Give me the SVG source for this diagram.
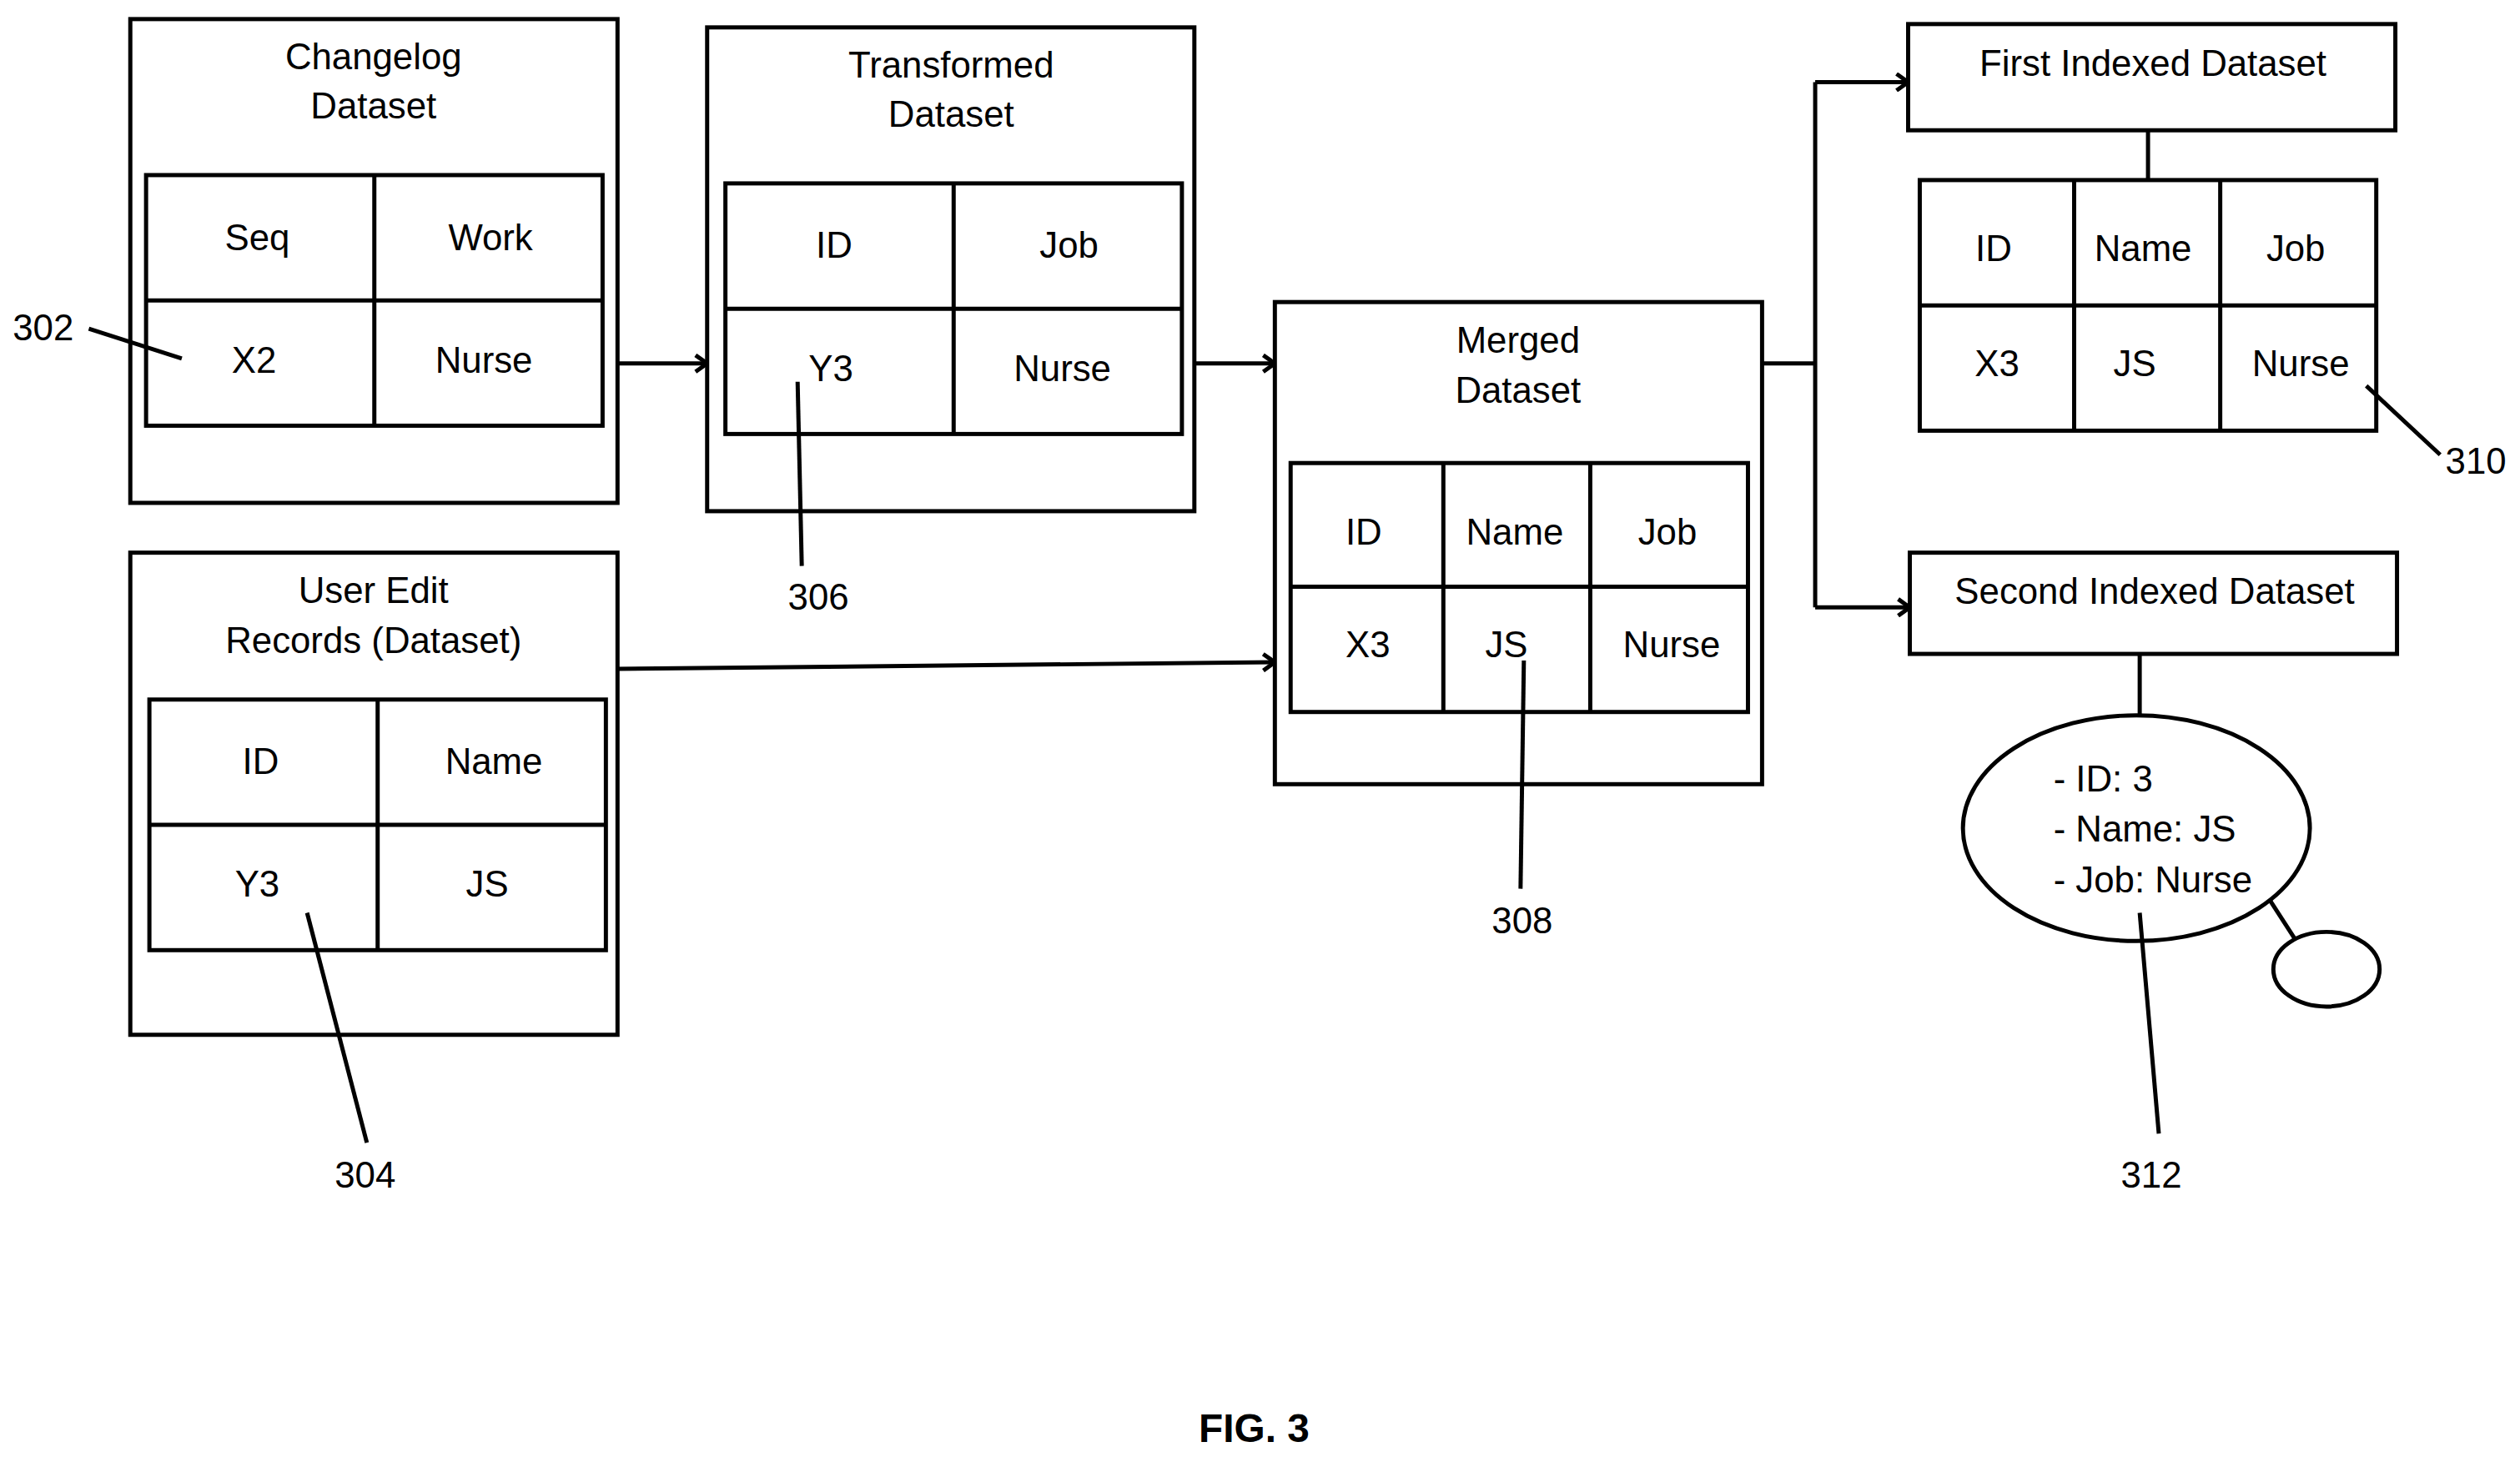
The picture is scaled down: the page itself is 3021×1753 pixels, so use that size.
<svg xmlns="http://www.w3.org/2000/svg" width="3021" height="1753" viewBox="0 0 3021 1753">
<style>
rect,ellipse{fill:none;stroke:#000;stroke-width:5}
line,path{stroke:#000;stroke-width:5;fill:none}
text{font-family:"Liberation Sans",Arial,sans-serif;font-size:44px;text-anchor:middle;fill:#000}
.l{text-anchor:start}
.b{font-weight:bold;font-size:48px}
</style>
<defs>
<marker id="m" viewBox="0 0 20 24" markerWidth="20" markerHeight="24" refX="18" refY="12" orient="auto" markerUnits="userSpaceOnUse"><path d="M4,2 L18,12 L4,22" stroke="#000" stroke-width="4" fill="none"/></marker></defs>
<rect width="3021" height="1753" style="fill:#fff;stroke:none"/>
<g transform="scale(0.995)">
<g id="changelog">
<rect x="157" y="23" width="587" height="583"/>
<text x="450" y="83">Changelog</text><text x="450" y="143">Dataset</text>
<rect x="176" y="211" width="550" height="302"/>
<line x1="451" y1="211" x2="451" y2="513"/><line x1="176" y1="362" x2="726" y2="362"/>
<text x="310" y="302">Seq</text><text x="591" y="302">Work</text>
<text x="306" y="449">X2</text><text x="583" y="449">Nurse</text>
</g>
<g id="transformed">
<rect x="852" y="33" width="587" height="583"/>
<text x="1146" y="93">Transformed</text><text x="1146" y="153">Dataset</text>
<rect x="874" y="221" width="550" height="302"/>
<line x1="1149" y1="221" x2="1149" y2="523"/><line x1="874" y1="372" x2="1424" y2="372"/>
<text x="1005" y="311">ID</text><text x="1288" y="311">Job</text>
<text x="1001" y="459">Y3</text><text x="1280" y="459">Nurse</text>
</g>
<g id="useredit">
<rect x="157" y="666" width="587" height="581"/>
<text x="450" y="727">User Edit</text><text x="450" y="787">Records (Dataset)</text>
<rect x="180" y="843" width="550" height="302"/>
<line x1="455" y1="843" x2="455" y2="1145"/><line x1="180" y1="994" x2="730" y2="994"/>
<text x="314" y="933">ID</text><text x="595" y="933">Name</text>
<text x="310" y="1080">Y3</text><text x="587" y="1080">JS</text>
</g>
<g id="merged">
<rect x="1536" y="364" width="587" height="581"/>
<text x="1829" y="425">Merged</text><text x="1829" y="485">Dataset</text>
<rect x="1555" y="558" width="551" height="300"/>
<line x1="1739" y1="558" x2="1739" y2="858"/><line x1="1916" y1="558" x2="1916" y2="858"/><line x1="1555" y1="707" x2="2106" y2="707"/>
<text x="1643" y="656">ID</text><text x="1825" y="656">Name</text><text x="2009" y="656">Job</text>
<text x="1648" y="792">X3</text><text x="1815" y="792">JS</text><text x="2014" y="792">Nurse</text>
</g>
<g id="first">
<rect x="2299" y="29" width="587" height="128"/>
<text x="2594" y="91">First Indexed Dataset</text>
<rect x="2313" y="217" width="550" height="302"/>
<line x1="2499" y1="217" x2="2499" y2="519"/><line x1="2675" y1="217" x2="2675" y2="519"/><line x1="2313" y1="368" x2="2863" y2="368"/>
<text x="2402" y="315">ID</text><text x="2582" y="315">Name</text><text x="2766" y="315">Job</text>
<text x="2406" y="453">X3</text><text x="2572" y="453">JS</text><text x="2772" y="453">Nurse</text>
</g>
<g id="second">
<rect x="2301" y="666" width="587" height="122"/>
<text x="2596" y="728">Second Indexed Dataset</text>
<ellipse cx="2574" cy="998" rx="209" ry="136"/>
<text class="l" x="2474" y="954">- ID: 3</text><text class="l" x="2474" y="1014">- Name: JS</text><text class="l" x="2474" y="1075">- Job: Nurse</text>
<ellipse cx="2803" cy="1168" rx="64" ry="45"/>
</g>
<g id="labels">
<text x="52" y="410">302</text><text x="986" y="735">306</text><text x="440" y="1431">304</text>
<text x="1834" y="1125">308</text><text x="2983" y="571">310</text><text x="2592" y="1431">312</text>
<text class="b" x="1511" y="1738">FIG. 3</text>
</g>
<g id="connectors">
<line x1="744" y1="438" x2="852" y2="438" marker-end="url(#m)"/>
<line x1="1439" y1="438" x2="1536" y2="438" marker-end="url(#m)"/>
<line x1="744" y1="806" x2="1536" y2="798" marker-end="url(#m)"/>
<path d="M2123,438 H2187 M2187,99 V732"/>
<line x1="2187" y1="99" x2="2299" y2="99" marker-end="url(#m)"/>
<line x1="2187" y1="732" x2="2301" y2="732" marker-end="url(#m)"/>
<line x1="2588" y1="157" x2="2588" y2="217"/>
<line x1="2578" y1="788" x2="2578" y2="862"/>
<line x1="2735" y1="1085" x2="2766" y2="1133"/>
<line x1="107" y1="396" x2="219" y2="432"/>
<line x1="961" y1="460" x2="966" y2="682"/>
<line x1="370" y1="1100" x2="442" y2="1377"/>
<line x1="1836" y1="796" x2="1832" y2="1071"/>
<line x1="2851" y1="465" x2="2940" y2="548"/>
<line x1="2578" y1="1100" x2="2601" y2="1366"/>
</g>
</g>
</svg>
